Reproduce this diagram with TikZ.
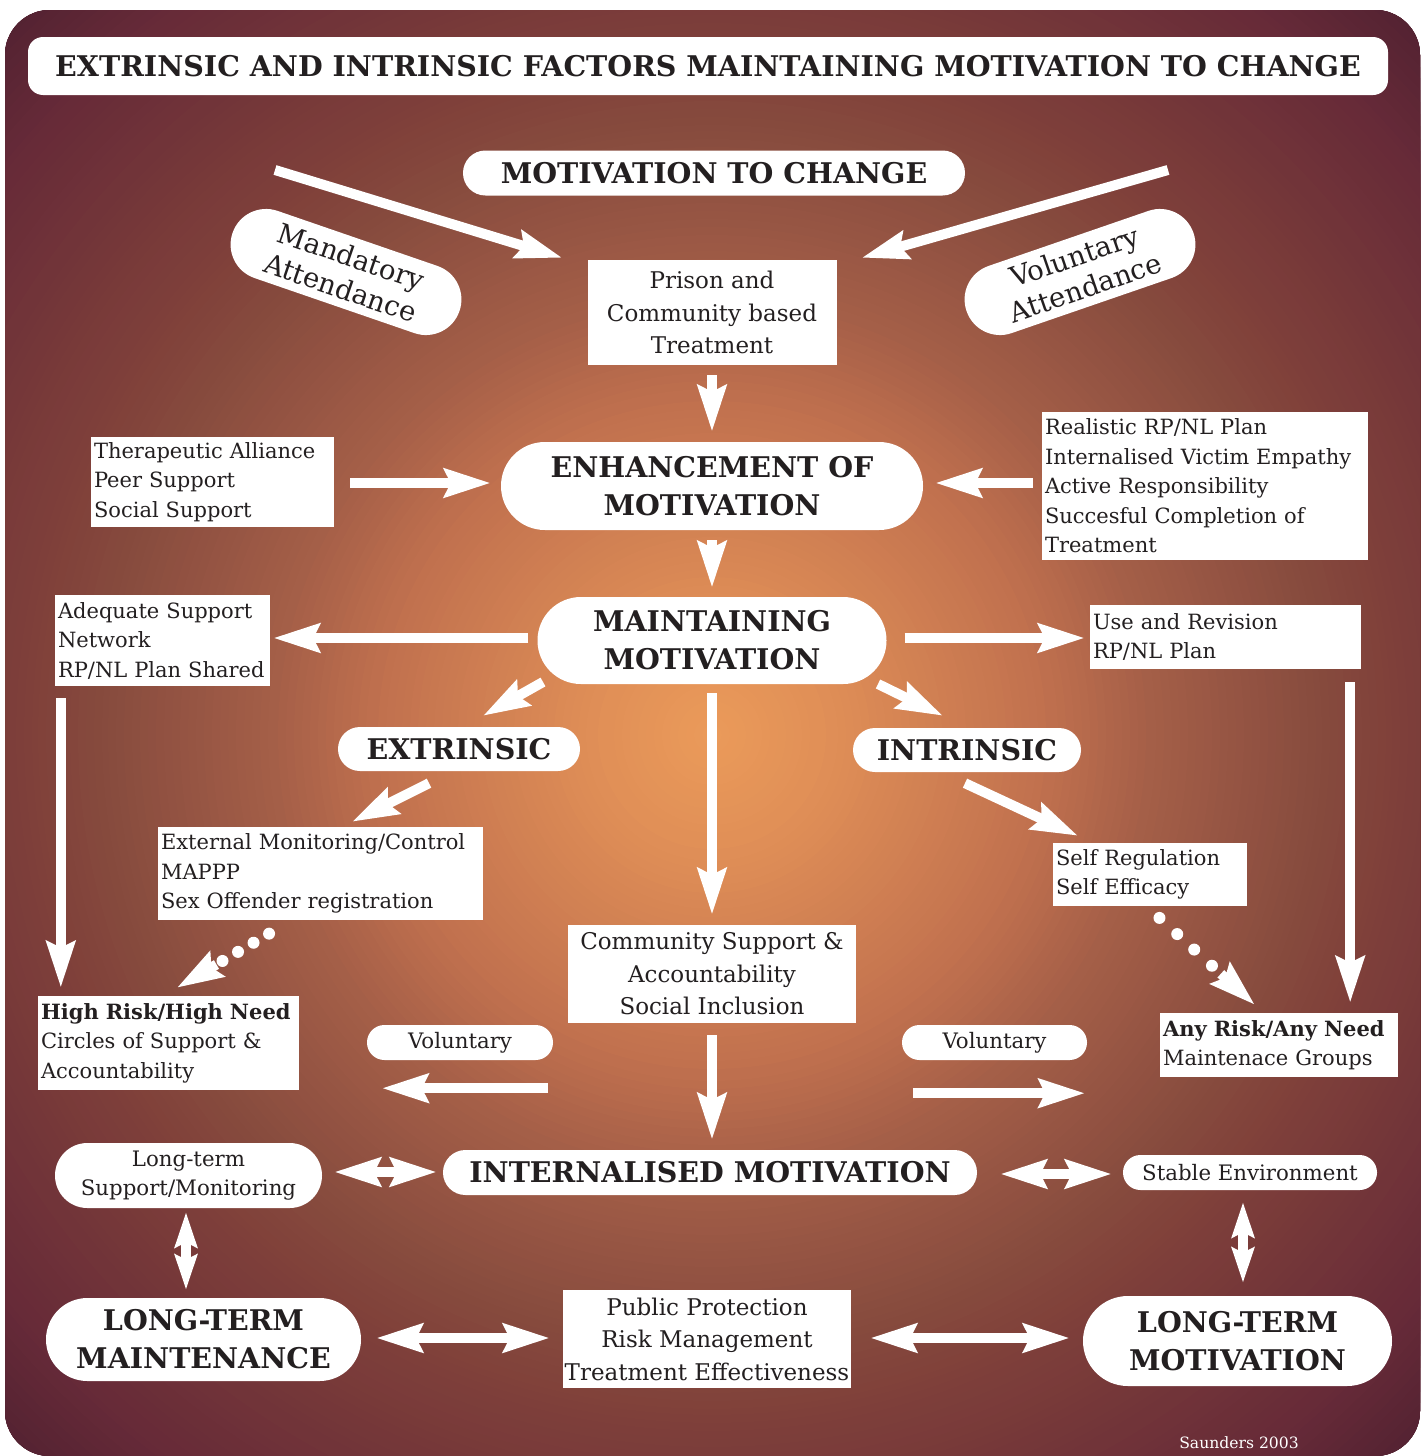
\documentclass[tikz,border=0pt]{standalone}
\usepackage{fontspec}
\setmainfont{DejaVu Serif}
\usetikzlibrary{arrows.meta,calc}
\definecolor{txt}{HTML}{231F20}
\definecolor{gA}{HTML}{EB9B5A}
\definecolor{gB}{HTML}{E08F57}
\definecolor{gC}{HTML}{C0704E}
\definecolor{gD}{HTML}{A55F48}
\definecolor{gE}{HTML}{874B3E}
\definecolor{gF}{HTML}{80413A}
\definecolor{gG}{HTML}{662A38}
\definecolor{gH}{HTML}{4E2030}
\newcommand\oneln[1]{\mbox{#1}}
\begin{document}
\begin{tikzpicture}[x=1pt,y=-1pt,
  box/.style={rectangle, fill=white, text=txt, inner sep=3pt, align=left, font=\fontsize{21}{29.5}\selectfont},
  cbox/.style={rectangle, fill=white, text=txt, inner sep=1pt, align=center, font=\fontsize{23}{32.5}\selectfont},
  pill/.style={rectangle, fill=white, text=txt, inner sep=0pt, align=center, rounded corners=#1},
  bigb/.style={font=\fontsize{28.5}{38}\selectfont\bfseries},
  reg/.style={font=\fontsize{21.3}{29}\selectfont},
  arr/.style={draw=white, line width=10pt, -{Stealth[length=46pt,width=28pt,inset=6pt]}},
  darr/.style={draw=white, line width=10pt, {Stealth[length=46pt,width=28pt,inset=6pt]}-{Stealth[length=46pt,width=28pt,inset=6pt]}},
  vdarr/.style={draw=white, line width=10pt, {Stealth[length=35pt,width=22pt,inset=5pt]}-{Stealth[length=35pt,width=22pt,inset=5pt]}},
  dot/.style={fill=white}
]
\useasboundingbox (0,0) rectangle (1427,1456);
\begin{scope}
\clip[rounded corners=45pt] (5,10) rectangle (1420,1456);
\coordinate (ctr) at (712,735);
\foreach \r in {1030,1022,...,910} {\pgfmathsetmacro\p{(\r-910)/120*100}\fill[gH!\p!gG] (ctr) circle (\r);}
\foreach \r in {904,896,...,680} {\pgfmathsetmacro\p{(\r-680)/230*100}\fill[gG!\p!gF] (ctr) circle (\r);}
\foreach \r in {674,666,...,610} {\pgfmathsetmacro\p{(\r-610)/70*100}\fill[gF!\p!gE] (ctr) circle (\r);}
\foreach \r in {604,596,...,440} {\pgfmathsetmacro\p{(\r-440)/170*100}\fill[gE!\p!gD] (ctr) circle (\r);}
\foreach \r in {434,426,...,340} {\pgfmathsetmacro\p{(\r-340)/100*100}\fill[gD!\p!gC] (ctr) circle (\r);}
\foreach \r in {334,326,...,120} {\pgfmathsetmacro\p{(\r-120)/220*100}\fill[gC!\p!gB] (ctr) circle (\r);}
\foreach \r in {114,106,...,2} {\pgfmathsetmacro\p{\r/120*100}\fill[gB!\p!gA] (ctr) circle (\r);}
\end{scope}

% title
\node[rectangle, fill=white, text=txt, rounded corners=15pt, minimum width=1360pt, minimum height=58pt, font=\fontsize{28.5}{34}\selectfont\bfseries] (title) at (708,66) {EXTRINSIC AND INTRINSIC FACTORS MAINTAINING MOTIVATION TO CHANGE};

\node[pill=22.4pt, bigb, minimum width=502pt, minimum height=45pt] (mtc) at (714,173) {MOTIVATION TO CHANGE};
\node[pill=35.4pt, minimum width=240pt, minimum height=71pt, rotate=-19, font=\fontsize{27.5}{33}\selectfont] (mand) at (346,272) {Mandatory\\Attendance};
\node[pill=35.4pt, minimum width=240pt, minimum height=71pt, rotate=19, font=\fontsize{27.5}{33}\selectfont] (vol) at (1080,272) {Voluntary\\Attendance};

\node[cbox, minimum width=249pt, minimum height=105pt] (prison) at (712,312.5) {Prison and\\Community based\\Treatment};
\node[pill=43.9pt, bigb, minimum width=422pt, minimum height=88pt] (enh) at (712,486) {ENHANCEMENT OF\\MOTIVATION};
\node[box, minimum width=243pt, minimum height=90pt, text width=237pt] (ther) at (212.5,482) {\oneln{Therapeutic Alliance}\\\oneln{Peer Support}\\\oneln{Social Support}};
\node[box, minimum width=326pt, minimum height=148pt, text width=320pt] (real) at (1205,486) {\oneln{Realistic RP/NL Plan}\\\oneln{Internalised Victim Empathy}\\\oneln{Active Responsibility}\\\oneln{Succesful Completion of}\\\oneln{Treatment}};

\node[pill=43.4pt, bigb, minimum width=349pt, minimum height=87pt] (maint) at (712,640.5) {MAINTAINING\\MOTIVATION};
\node[box, minimum width=215pt, minimum height=91pt, text width=209pt] (adeq) at (162.5,640.5) {\oneln{Adequate Support}\\\oneln{Network}\\\oneln{RP/NL Plan Shared}};
\node[box, minimum width=271pt, minimum height=64pt, text width=265pt] (use) at (1225.5,637) {\oneln{Use and Revision}\\\oneln{RP/NL Plan}};

\node[pill=21.9pt, bigb, minimum width=242pt, minimum height=44pt] (extr) at (459,749) {EXTRINSIC};
\node[pill=21.9pt, bigb, minimum width=228pt, minimum height=44pt] (intr) at (967,750) {INTRINSIC};

\node[box, minimum width=325pt, minimum height=93pt, text width=319pt] (ext) at (320.5,873.5) {\oneln{External Monitoring/Control}\\\oneln{MAPPP}\\\oneln{Sex Offender registration}};
\node[box, minimum width=194pt, minimum height=63pt, text width=188pt] (self) at (1150,874.5) {\oneln{Self Regulation}\\\oneln{Self Efficacy}};

\node[cbox, minimum width=288pt, minimum height=98pt] (comm) at (712,974) {Community Support \&\\Accountability\\Social Inclusion};
\node[box, minimum width=261pt, minimum height=94pt, text width=255pt] (high) at (168.5,1043) {\oneln{\textbf{High Risk/High Need}}\\\oneln{Circles of Support \&}\\\oneln{Accountability}};
\node[box, minimum width=238pt, minimum height=64pt, text width=232pt] (any) at (1279,1045) {\oneln{\textbf{Any Risk/Any Need}}\\\oneln{Maintenace Groups}};

\node[pill=17.4pt, reg, minimum width=186pt, minimum height=35pt] (vl) at (460,1042.5) {Voluntary};
\node[pill=17.4pt, reg, minimum width=185pt, minimum height=35pt] (vr) at (994.5,1042.5) {Voluntary};

\node[pill=22.4pt, bigb, minimum width=534pt, minimum height=45pt] (intm) at (710,1172.5) {INTERNALISED MOTIVATION};
\node[pill=32.4pt, reg, minimum width=267pt, minimum height=65pt] (lts) at (188.5,1175.5) {Long-term\\Support/Monitoring};
\node[pill=17.4pt, reg, minimum width=254pt, minimum height=35pt] (stab) at (1250,1172.5) {Stable Environment};

\node[pill=41.4pt, bigb, minimum width=315pt, minimum height=83pt] (ltm) at (203.5,1339.5) {LONG-TERM\\MAINTENANCE};
\node[cbox, minimum width=288pt, minimum height=98pt] (pub) at (707,1339) {Public Protection\\Risk Management\\Treatment Effectiveness};
\node[pill=44.9pt, bigb, minimum width=309pt, minimum height=90pt] (ltmo) at (1237.5,1341) {LONG-TERM\\MOTIVATION};

\node[text=white, font=\fontsize{15.6}{18}\selectfont, inner sep=0pt] (saund) at (1239,1443) {Saunders 2003};

% arrows
\coordinate (mandS) at (275,170);
\coordinate (volS) at (1168,170);
\draw[arr] (mandS) -- ($(prison.north west)+(-25,-2)$);
\draw[arr] (volS) -- ($(prison.north east)+(25,-2)$);
\draw[arr] ($(prison.south)+(0,10)$) -- ($(enh.north)+(0,-10)$);
\draw[arr] ($(ther.east)+(16,1)$) -- ($(enh.west)+(-10,-3)$);
\draw[arr] ($(real.west)+(-9,-3)$) -- ($(enh.east)+(12,-3)$);
\draw[arr] ($(enh.south)+(0,10)$) -- ($(maint.north)+(0,-9)$);
\draw[arr] ($(maint.west)+(-9,-2.5)$) -- ($(adeq.east)+(3,-2.5)$);
\draw[arr] ($(maint.east)+(18,-2.5)$) -- ($(use.west)+(-5,1)$);
\draw[arr] ($(maint.center)+(-169,41.5)$) -- ($(extr.north)+(24,-11)$);
\draw[arr] ($(maint.center)+(166,43.5)$) -- ($(intr.north)+(-24,-12)$);
\draw[arr] ($(maint.south)+(0,9)$) -- ($(comm.north)+(0,-10)$);
\draw[arr] ($(extr.south)+(-30,12)$) -- ($(ext.north)+(31.5,-5)$);
\draw[arr] ($(intr.south)+(-2,11)$) -- ($(self.north)+(-72,-7)$);
\draw[arr] ($(adeq.south west)+(6,12)$) -- ($(high.north west)+(23,-8)$);
\draw[arr] ($(use.south east)+(-11,13)$) -- ($(any.north east)+(-48,-10)$);

% dotted arrows
\coordinate (d1s) at ($(ext.south west)+(112,13)$);
\coordinate (d1t) at ($(high.north west)+(139,-8)$);
\foreach \t in {53,71,89,107} {\fill[dot] ($(d1t)!\t pt!(d1s)$) circle (6);}
\draw[arr] ($(d1t)!46pt!(d1s)$) -- (d1t);
\coordinate (d2s) at ($(self.south west)+(107,12)$);
\coordinate (d2t) at ($(any.north west)+(95,-8)$);
\foreach \t in {58,82,105,129} {\fill[dot] ($(d2t)!\t pt!(d2s)$) circle (6);}
\draw[arr] ($(d2t)!46pt!(d2s)$) -- (d2t);

\draw[arr] ($(vl.south east)+(-5,28)$) -- ($(vl.south west)+(15,28)$);
\draw[arr] ($(vr.south west)+(11,33)$) -- ($(vr.south east)+(-2,33)$);
\draw[arr] ($(comm.south)+(0,12)$) -- ($(comm.south |- intm.north)+(0,-10)$);

\draw[darr] ($(lts.east)+(12,-3.5)$) -- ($(intm.west)+(-6,-0.5)$);
\draw[darr] ($(intm.east)+(23,1.5)$) -- ($(stab.west)+(-11,1.5)$);
\draw[vdarr] ($(lts.south)+(-2.5,4)$) -- ($(ltm.north)+(-17.5,-8)$);
\draw[vdarr] ($(stab.south)+(-7,12)$) -- ($(ltmo.north)+(5.5,-13)$);
\draw[darr] ($(ltm.east)+(15,-1.5)$) -- ($(pub.west)+(-13,-1)$);
\draw[darr] ($(pub.east)+(19,-1)$) -- ($(ltmo.west)+(-13,-3)$);
\end{tikzpicture}
\end{document}
